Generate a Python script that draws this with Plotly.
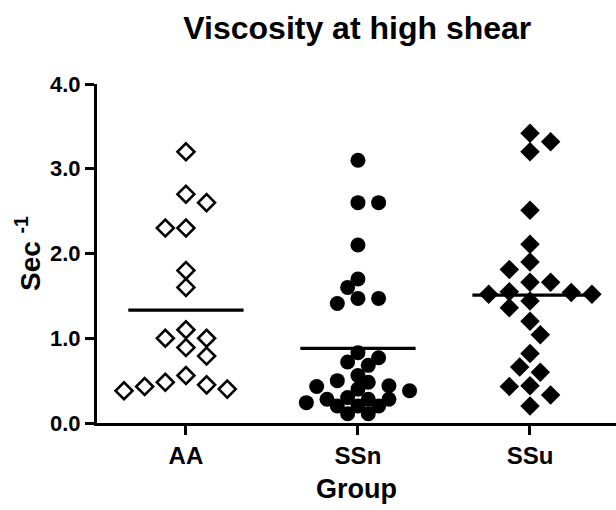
import numpy as np
import plotly.graph_objects as go

# ---- data ----
groups = ["AA", "SSn", "SSu"]
aa_values = [3.2, 2.7, 2.6, 2.3, 2.3, 1.8, 1.6, 1.1, 1.0, 1.0, 0.89, 0.79,
             0.56, 0.48, 0.45, 0.43, 0.40, 0.38]
ssn_values = [3.1, 2.6, 2.6, 2.1, 1.7, 1.6, 1.47, 1.47, 1.41,
              0.83, 0.77, 0.72, 0.68, 0.56, 0.50, 0.48, 0.44, 0.43, 0.40, 0.38,
              0.30, 0.28, 0.28, 0.28, 0.24, 0.20, 0.20, 0.20, 0.11, 0.11]
ssu_values = [3.42, 3.32, 3.20, 2.51, 2.11, 1.90, 1.81, 1.66, 1.66, 1.55,
              1.54, 1.52, 1.52, 1.44, 1.36, 1.20, 1.04, 0.82, 0.66, 0.60,
              0.44, 0.43, 0.33, 0.20]
y_ticks = [0.0, 1.0, 2.0, 3.0, 4.0]

# ---- layout constants ----
W, H = 616, 510
ML, MR, MT, MB = 97, 0, 84, 87
XR = [-0.517, 2.5]
YR = [0, 4]
FONT = "Liberation Sans, Arial, sans-serif"

px_x = (W - ML - MR) / (XR[1] - XR[0])
px_y = (H - MT - MB) / (YR[1] - YR[0])


def beeswarm(values, min_dist, step=0.06, max_k=10):
    """Greedy horizontal spreading on a grid so markers do not pile up."""
    placed = []

    def free(ox, v):
        for (px, py) in placed:
            dx = (ox - px) * px_x
            dy = (v - py) * px_y
            if dx * dx + dy * dy < min_dist * min_dist:
                return False
        return True

    offs = []
    for v in values:
        chosen = 0.0
        for k in range(0, max_k + 1):
            opts = [k * step] if k == 0 else [k * step, -k * step]
            ok = [o for o in opts if free(o, v)]
            if ok:
                if len(ok) == 2:
                    npos = sum(1 for o in offs if o > 0)
                    nneg = sum(1 for o in offs if o < 0)
                    chosen = ok[1] if npos > nneg else ok[0]
                else:
                    chosen = ok[0]
                break
        placed.append((chosen, v))
        offs.append(chosen)
    return np.array(offs)


series = [aa_values, ssn_values, ssu_values]
markers = [
    dict(symbol="diamond-open", size=13, color="black", line=dict(width=2.6, color="black")),
    dict(symbol="circle", size=15, color="black", line=dict(width=0)),
    dict(symbol="diamond", size=15, color="black", line=dict(width=0)),
]
min_dists = [16, 12, 16]

fig = go.Figure()
for i, (vals, mk, d) in enumerate(zip(series, markers, min_dists)):
    vals = np.array(vals)
    xs = i + beeswarm(vals, d)
    fig.add_trace(go.Scatter(x=xs, y=vals, mode="markers", marker=mk,
                             cliponaxis=False, showlegend=False, name=groups[i]))
    m = float(np.mean(vals))
    fig.add_trace(go.Scatter(x=[i - 0.335, i + 0.335], y=[m, m], mode="lines",
                             line=dict(color="black", width=3.2),
                             cliponaxis=False, showlegend=False, hoverinfo="skip"))

fig.update_layout(
    width=W, height=H,
    margin=dict(l=ML, r=MR, t=MT, b=MB, autoexpand=False),
    paper_bgcolor="white", plot_bgcolor="white",
    font=dict(family=FONT, color="black"),
    title=dict(text="<b>Viscosity at high shear</b>", x=0.58, xanchor="center",
               y=1 - 28 / H, yanchor="middle", font=dict(size=32, family=FONT)),
    xaxis=dict(range=XR, tickmode="array", tickvals=[0, 1, 2],
               ticktext=["<b>%s</b>" % g for g in groups],
               showline=True, linecolor="black", linewidth=3,
               ticks="outside", ticklen=9, tickwidth=3, tickcolor="black",
               showgrid=False, zeroline=False,
               tickfont=dict(size=24, family=FONT),
               title=dict(text="<b>Group</b>", font=dict(size=27, family=FONT), standoff=12)),
    yaxis=dict(range=YR, tickmode="array", tickvals=y_ticks,
               ticktext=["<b>%.1f</b>" % t for t in y_ticks],
               showline=True, linecolor="black", linewidth=3,
               ticks="outside", ticklen=9, tickwidth=3, tickcolor="black",
               showgrid=False, zeroline=False,
               tickfont=dict(size=22, family=FONT),
               title=dict(text="<b>Sec <sup>-1</sup></b>", font=dict(size=28, family=FONT), standoff=2)),
)

fig.write_html("out.html")
